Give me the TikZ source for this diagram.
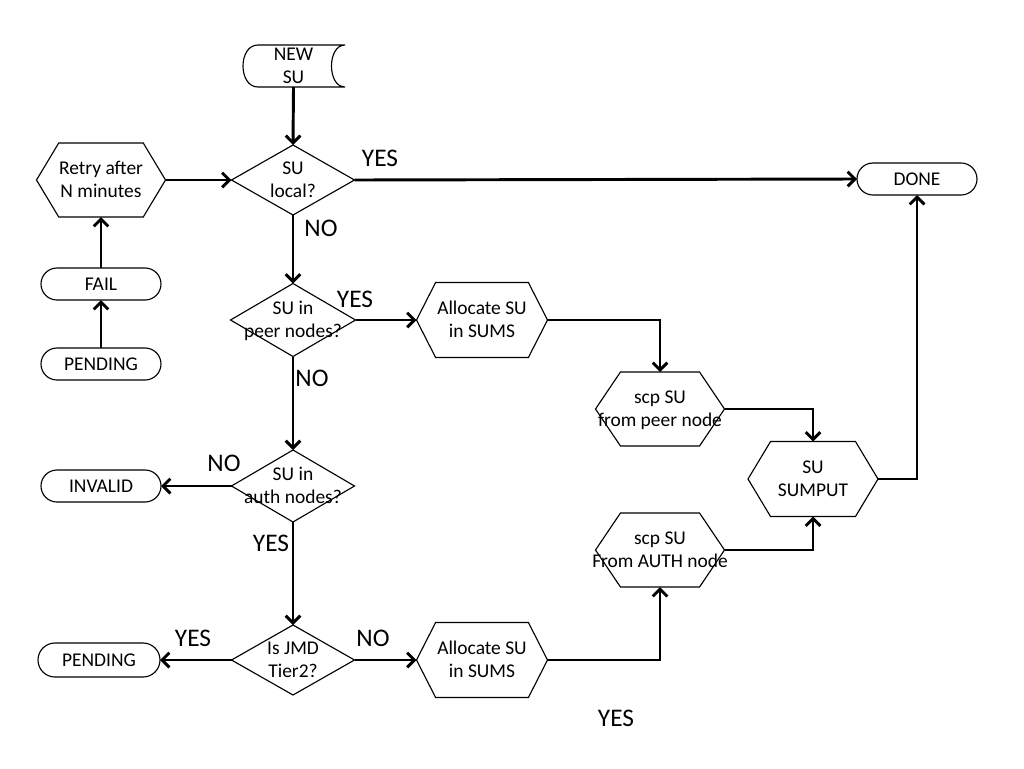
\documentclass[tikz,border=0pt]{standalone}
\usepackage{fontspec}
\setmainfont{Carlito}
\usetikzlibrary{shapes.geometric,shapes.symbols,shapes.misc,arrows.meta,calc}
\newcommand{\ct}[1]{\makebox[0pt]{\smash{\raisebox{-4.6pt}{\begin{tabular}{@{}c@{}}#1\end{tabular}}}}}
\begin{document}
\begin{tikzpicture}[x=0.75pt,y=-0.75pt,
  txt/.style={font=\fontsize{14.6}{17.8}\selectfont, inner sep=0pt, outer sep=0pt},
  hexa/.style={txt, draw, line width=0.85pt, signal, signal to=west and east, signal pointer angle=118},
  dia/.style={txt, draw, line width=0.85pt, diamond},
  term/.style={txt, draw, line width=0.85pt, rounded rectangle, minimum width=90pt, minimum height=24pt},
  lbl/.style={font=\fontsize{19}{22}\selectfont, inner sep=0pt},
  arr/.style={line width=2.2pt, -{Straight Barb[length=5.5pt,width=11pt]}},
  ln/.style={line width=2.2pt}]
\useasboundingbox (0,0) rectangle (1024,768);

% terminal shapes
\node[txt, minimum width=77.25pt, minimum height=31.5pt] (new) at (293.5,66) {\ct{NEW\\SU}};
\draw[line width=0.85pt] (new.north east) -- ($(new.north west)+(16,0)$)
  .. controls ($(new.north west)+(-4,0)$) and ($(new.south west)+(-4,0)$) .. ($(new.south west)+(16,0)$)
  -- (new.south east)
  .. controls ($(new.south east)+(-18,0)$) and ($(new.north east)+(-18,0)$) .. (new.north east);

\node[term] (fail) at (101,284) {\ct{FAIL}};
\node[term] (pend1) at (101,364) {\ct{PENDING}};
\node[term] (invalid) at (101,486) {\ct{INVALID}};
\node[term, minimum width=91.5pt, minimum height=25.5pt] (pend2) at (99,660) {\ct{PENDING}};
\node[term] (done) at (917,179) {\ct{DONE}};

% hexagons
\node[hexa, minimum width=96.75pt, minimum height=55.5pt] (retry) at (101,180) {\ct{Retry after\\N minutes}};
\node[hexa, minimum width=98.25pt, minimum height=56.25pt, signal pointer angle=126] (alloc1) at (482,320) {\ct{Allocate SU\\in SUMS}};
\node[hexa, minimum width=96.75pt, minimum height=55.5pt, signal pointer angle=112] (scp1) at (660,409) {\ct{scp SU\\from peer node}};
\node[hexa, minimum width=97.5pt, minimum height=56.25pt] (sumput) at (813,479) {\ct{SU\\SUMPUT}};
\node[hexa, minimum width=96.75pt, minimum height=55.5pt, signal pointer angle=112] (scp2) at (660,550) {\ct{scp SU\\From AUTH node}};
\node[hexa, minimum width=98.25pt, minimum height=56.25pt, signal pointer angle=126] (alloc2) at (482,660) {\ct{Allocate SU\\in SUMS}};

% decisions
\node[dia, minimum width=92.25pt, minimum height=52.5pt] (local) at (293,180) {\ct{SU\\local?}};
\node[dia, minimum width=93.75pt, minimum height=54.75pt] (peer) at (293,320) {\ct{SU in\\peer nodes?}};
\node[dia, minimum width=92.25pt, minimum height=54pt] (auth) at (293,486) {\ct{SU in\\auth nodes?}};
\node[dia, minimum width=92.25pt, minimum height=52.5pt] (jmd) at (293,660) {\ct{Is JMD\\Tier2?}};

% connectors
\draw[arr] (new.south) -- (local.north);
\draw[arr] (retry.east) -- (local.west);
\draw[arr] (local.east) -- (done.west);
\draw[arr] (local.south) -- (peer.north);
\draw[arr] (peer.east) -- (alloc1.west);
\draw[arr] (alloc1.east) -| (scp1.north);
\draw[arr] (scp1.east) -| (sumput.north);
\draw[arr] (scp2.east) -| (sumput.south);
\draw[arr] (sumput.east) -| (done.south);
\draw[arr] (peer.south) -- (auth.north);
\draw[arr] (auth.west) -- (invalid.east);
\draw[arr] (auth.south) -- (jmd.north);
\draw[arr] (jmd.west) -- (pend2.east);
\draw[arr] (jmd.east) -- (alloc2.west);
\draw[arr] (alloc2.east) -| (scp2.south);
\draw[arr] (pend1.north) -- (fail.south);
\draw[arr] (fail.north) -- (retry.south);

% labels
\node[lbl] (l1) at (380,158) {YES};
\node[lbl] (l2) at (321,228) {NO};
\node[lbl] (l3) at (355,299) {YES};
\node[lbl] (l4) at (312,378) {NO};
\node[lbl] (l5) at (224,463) {NO};
\node[lbl] (l6) at (271,543) {YES};
\node[lbl] (l7) at (193,638) {YES};
\node[lbl] (l8) at (373,638) {NO};
\node[lbl] (l9) at (616,718) {YES};
\end{tikzpicture}
\end{document}
